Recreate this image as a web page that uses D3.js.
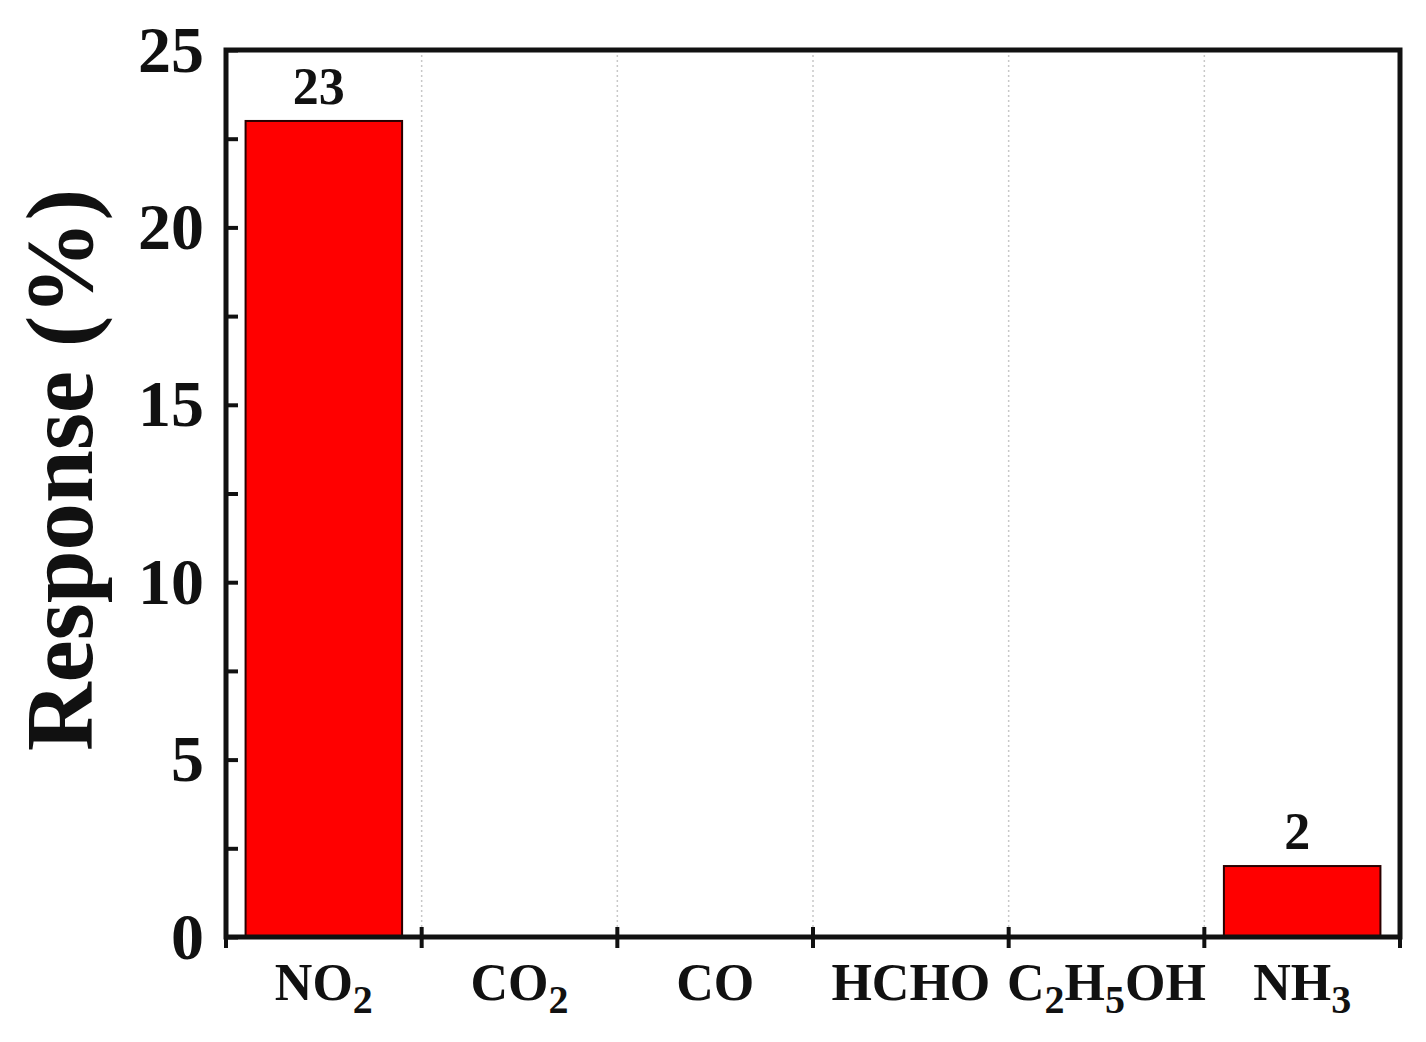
<!DOCTYPE html>
<html>
<head>
<meta charset="utf-8">
<script src="https://cdn.jsdelivr.net/npm/d3@7/dist/d3.min.js"></script>
<style>
  html, body { margin: 0; padding: 0; background: #fff; }
  svg { display: block; }
  text { font-family: "Liberation Serif", "Times New Roman", serif; font-weight: bold; fill: #111; }
</style>
</head>
<body>
<script>
const categories = ["NO2", "CO2", "CO", "HCHO", "C2H5OH", "NH3"];
const responses = [23, null, null, null, null, 2];
const yTicks = [0, 2.5, 5, 7.5, 10, 12.5, 15, 17.5, 20, 22.5, 25];
const yLabelTicks = [0, 5, 10, 15, 20, 25];
const yTitle = "Response (%)";

const W = 1426, H = 1042;
const m = { left: 226, right: 26, top: 50, bottom: 105 };
const pw = W - m.left - m.right, ph = H - m.top - m.bottom;

const svg = d3.select("body").append("svg").attr("width", W).attr("height", H);
const g = svg.append("g").attr("transform", `translate(${m.left},${m.top})`);

const x = d3.scaleBand().domain(categories).range([0, pw]).padding(0);
const y = d3.scaleLinear().domain([0, 25]).range([ph, 0]);

// dotted grid lines at category boundaries
g.selectAll(".grid").data(categories.slice(1)).enter().append("line")
  .attr("x1", d => x(d)).attr("x2", d => x(d))
  .attr("y1", 0).attr("y2", ph)
  .attr("stroke", "#c8c8c8").attr("stroke-width", 1.5)
  .attr("stroke-dasharray", "2,3");

// bars
const bw = x.bandwidth() * 0.8;
const data = categories.map((c, i) => ({ c, v: responses[i] })).filter(d => d.v != null);
g.selectAll(".bar").data(data).enter().append("rect")
  .attr("x", d => x(d.c) + (x.bandwidth() - bw) / 2)
  .attr("y", d => y(d.v))
  .attr("width", bw)
  .attr("height", d => y(0) - y(d.v))
  .attr("fill", "#ff0000")
  .attr("stroke", "#2a0000").attr("stroke-width", 2);

// value labels
g.selectAll(".val").data(data).enter().append("text")
  .attr("x", d => x(d.c) + x.bandwidth() / 2 - 5)
  .attr("y", d => y(d.v) - 17)
  .attr("text-anchor", "middle")
  .attr("font-size", 52)
  .text(d => d.v);

// y axis
const yAxis = d3.axisLeft(y).tickValues(yTicks).tickSize(-12).tickPadding(22)
  .tickFormat(d => yLabelTicks.includes(d) ? d3.format("d")(d) : "");
const ya = g.append("g").call(yAxis);
ya.select(".domain").remove();
ya.selectAll(".tick line").attr("stroke", "#111").attr("stroke-width", 4);
ya.selectAll(".tick text").attr("font-size", 66).attr("fill", "#111")
  .attr("font-family", "Liberation Serif, Times New Roman, serif").attr("font-weight", "bold");

// x ticks at boundaries (crossing)
g.selectAll(".xt").data(categories.slice(1)).enter().append("line")
  .attr("x1", d => x(d)).attr("x2", d => x(d))
  .attr("y1", ph - 10).attr("y2", ph + 11)
  .attr("stroke", "#111").attr("stroke-width", 4);

// frame
g.append("rect").attr("x", 0).attr("y", 0).attr("width", pw).attr("height", ph)
  .attr("fill", "none").attr("stroke", "#111").attr("stroke-width", 5);
g.append("line").attr("x1", 0).attr("x2", 0).attr("y1", ph).attr("y2", ph + 11)
  .attr("stroke", "#111").attr("stroke-width", 4);
g.append("line").attr("x1", pw).attr("x2", pw).attr("y1", ph).attr("y2", ph + 11)
  .attr("stroke", "#111").attr("stroke-width", 4);

// x labels with subscripts
const xl = g.selectAll(".xl").data(categories).enter().append("text")
  .attr("x", d => x(d) + x.bandwidth() / 2)
  .attr("y", ph + 63)
  .attr("text-anchor", "middle")
  .attr("font-size", 52);
xl.each(function(d) {
  const t = d3.select(this);
  const parts = d.match(/[A-Za-z]+|\d+/g);
  let sub = false;
  parts.forEach(p => {
    const isNum = /^\d+$/.test(p);
    const ts = t.append("tspan").text(p);
    if (isNum) { ts.attr("font-size", 40).attr("dy", 13); sub = true; }
    else if (sub) { ts.attr("dy", -13); sub = false; }
  });
});

// y title
svg.append("text")
  .attr("transform", `translate(92,470) rotate(-90)`)
  .attr("text-anchor", "middle")
  .attr("font-size", 95)
  .text(yTitle);
</script>
</body>
</html>
